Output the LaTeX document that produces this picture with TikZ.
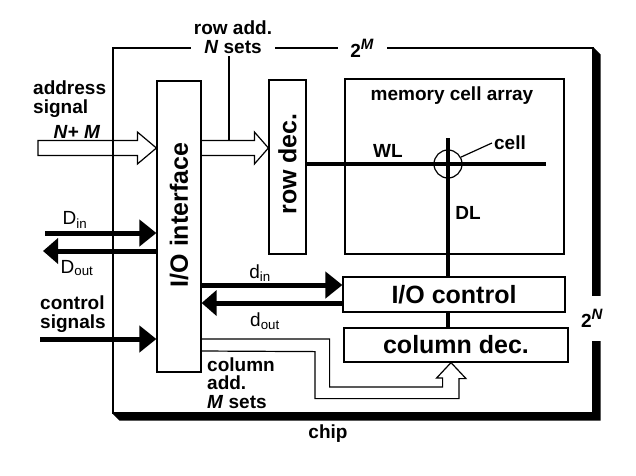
\documentclass[tikz,border=0pt]{standalone}
\usepackage{fontspec}
\setmainfont{Liberation Sans}
\usetikzlibrary{arrows.meta,calc,positioning}

\newcommand{\sizeexp}[1]{\raisebox{0.42em}{\fontsize{15}{15}\selectfont\textit{#1}}}

\begin{document}
\begin{tikzpicture}[x=1pt,y=-1pt,font=\fontsize{19}{18.5}\selectfont\bfseries]
  \tikzset{
    wire/.style={line width=1.2pt},
    block/.style={draw,line width=1.2pt,inner sep=0pt},
    bigtext/.style={font=\fontsize{25}{28}\selectfont\bfseries},
    plainlbl/.style={font=\fontsize{19}{17}\selectfont},
    lbl/.style={inner sep=2pt},
    gap/.style={fill=white,inner sep=3pt},
    busline/.style={line width=4.5pt},
    busin/.style={line width=5pt,-{Triangle[length=17pt,width=26pt]}},
    busout/.style={line width=5pt,-{Triangle[length=15pt,width=25pt]}},
    fatarrow/.style={line width=1.2pt,line join=miter},
  }

  \path[use as bounding box] (0,0) rectangle (636,475);

  % chip outline and its shadow
  \node[block,minimum width=480pt,minimum height=365pt] (chip) at (353,230.5) {};
  \fill (chip.north east) -- ++(7,7) -- ($(chip.south east)+(7,7)$)
    -- ($(chip.south west)+(7,7)$) -- (chip.south west) -- (chip.south east) -- cycle;
  \node[lbl] (chiplbl) at (328,434) {chip};

  % blocks
  \node[block,minimum width=44pt,minimum height=291pt] (iface) at (179,226.5) {};
  \node[bigtext,rotate=90] (ifacelbl) at (179,215) {I/O interface};
  \node[block,minimum width=37pt,minimum height=174pt] (rowdec) at (287.5,167) {};
  \node[bigtext,rotate=90] (rowdeclbl) at (287.5,164) {row dec.};
  \node[block,minimum width=219pt,minimum height=175pt] (array) at (454.5,166.5) {};
  \node[lbl] (arraylbl) at (452,96) {memory cell array};
  \node[block,bigtext,minimum width=222pt,minimum height=35pt] (ioctl) at (454,294.5) {I/O control};
  \node[block,bigtext,minimum width=224pt,minimum height=34pt] (coldec) at (456,345) {column dec.};

  % word line, data line and the cell
  \coordinate (wlend) at (546,164);
  \coordinate (dltop) at (448,138);
  \draw[busline] (rowdec.east |- wlend) -- (wlend);
  \draw[busline] (dltop) -- (dltop |- ioctl.north);
  \draw[busline] (ioctl.south -| dltop) -- (coldec.north -| dltop);
  \node[draw,circle,line width=1.2pt,minimum size=28pt,inner sep=0pt] (cell) at (dltop |- wlend) {};
  \node[lbl] (celllbl) at (510,143) {cell};
  \draw[wire] (cell.28) -- (celllbl.west);
  \node[lbl] (wllbl) at (388,151) {WL};
  \node[lbl] (dllbl) at (468,213) {DL};

  % address signal in, row address out
  \coordinate (addrin) at (38,148);
  \draw[fatarrow] (addrin) -- ++(0,-7.5) -- ($(iface.west |- addrin)+(-19,-7.5)$) -- ++(0,-8.5)
    -- (iface.west |- addrin) -- ++(-19,16) -- ++(0,-8.5) -- ($(addrin)+(0,7.5)$) -- cycle;
  \node[lbl,align=left,anchor=west] (addrlbl) at (31,99) {address\\signal};
  \node[lbl] (addrwidth) at (77,132) {\textit{N}+ \textit{M}};

  \coordinate (rowtap) at (229,140.5);
  \draw[fatarrow] (iface.east |- addrin) ++(0,-7.5) -- ($(rowdec.west |- addrin)+(-14,-7.5)$)
    -- ++(0,-8.5) -- (rowdec.west |- addrin) -- ++(-14,16) -- ++(0,-8.5)
    -- ($(iface.east |- addrin)+(0,7.5)$);
  \node[gap,align=center] (rowlbl) at (233,37) {row add.\\\textit{N} sets};
  \draw[wire] (rowlbl.south -| rowtap) -- (rowtap);

  % sizes written into the outline
  \node[gap,minimum width=49pt] (colsM) at (362,48) {2\sizeexp{M}};
  \node[gap,minimum height=45pt,inner sep=1pt] (rowsN) at (592,318) {2\sizeexp{N}};

  % data and control lines
  \coordinate (dinsrc) at (45,233);
  \coordinate (doutdst) at (43,251);
  \coordinate (ctrlsrc) at (40,339);
  \draw[busin] (dinsrc) -- (iface.west |- dinsrc);
  \draw[busout] (iface.west |- doutdst) -- (doutdst);
  \draw[busin] (ctrlsrc) -- (iface.west |- ctrlsrc);
  \node[lbl,plainlbl] (dinlbl) at (75,220) {D\textsubscript{in}};
  \node[lbl,plainlbl] (doutlbl) at (77,268) {D\textsubscript{out}};
  \node[lbl,align=left,anchor=west] (ctrllbl) at (38,314) {control\\signals};

  \coordinate (dinport) at ($(ioctl.west)+(0,-9.5)$);
  \coordinate (doutport) at ($(ioctl.west)+(0,8.5)$);
  \draw[busin] (iface.east |- dinport) -- (dinport);
  \draw[busout] (doutport) -- (iface.east |- doutport);
  \node[lbl,plainlbl] (dinlbl2) at (260,273) {d\textsubscript{in}};
  \node[lbl,plainlbl] (doutlbl2) at (265,321) {d\textsubscript{out}};

  % column address
  \coordinate (coltip) at ($(coldec.south)+(-5,0)$);
  \draw[fatarrow] (iface.east |- 0,339) -- ++(128,0) -- ++(0,48) -- ++(113,0) -- ++(0,-9)
    -- ++(-6,0) -- (coltip) -- ++(15,16) -- ++(-7,0) -- ++(0,20) -- ++(-144,0)
    -- ++(0,-47) -- (iface.east |- 0,351);
  \node[lbl,align=left,anchor=west] (collbl) at (205,383) {column\\add.\\\textit{M} sets};
\end{tikzpicture}
\end{document}
